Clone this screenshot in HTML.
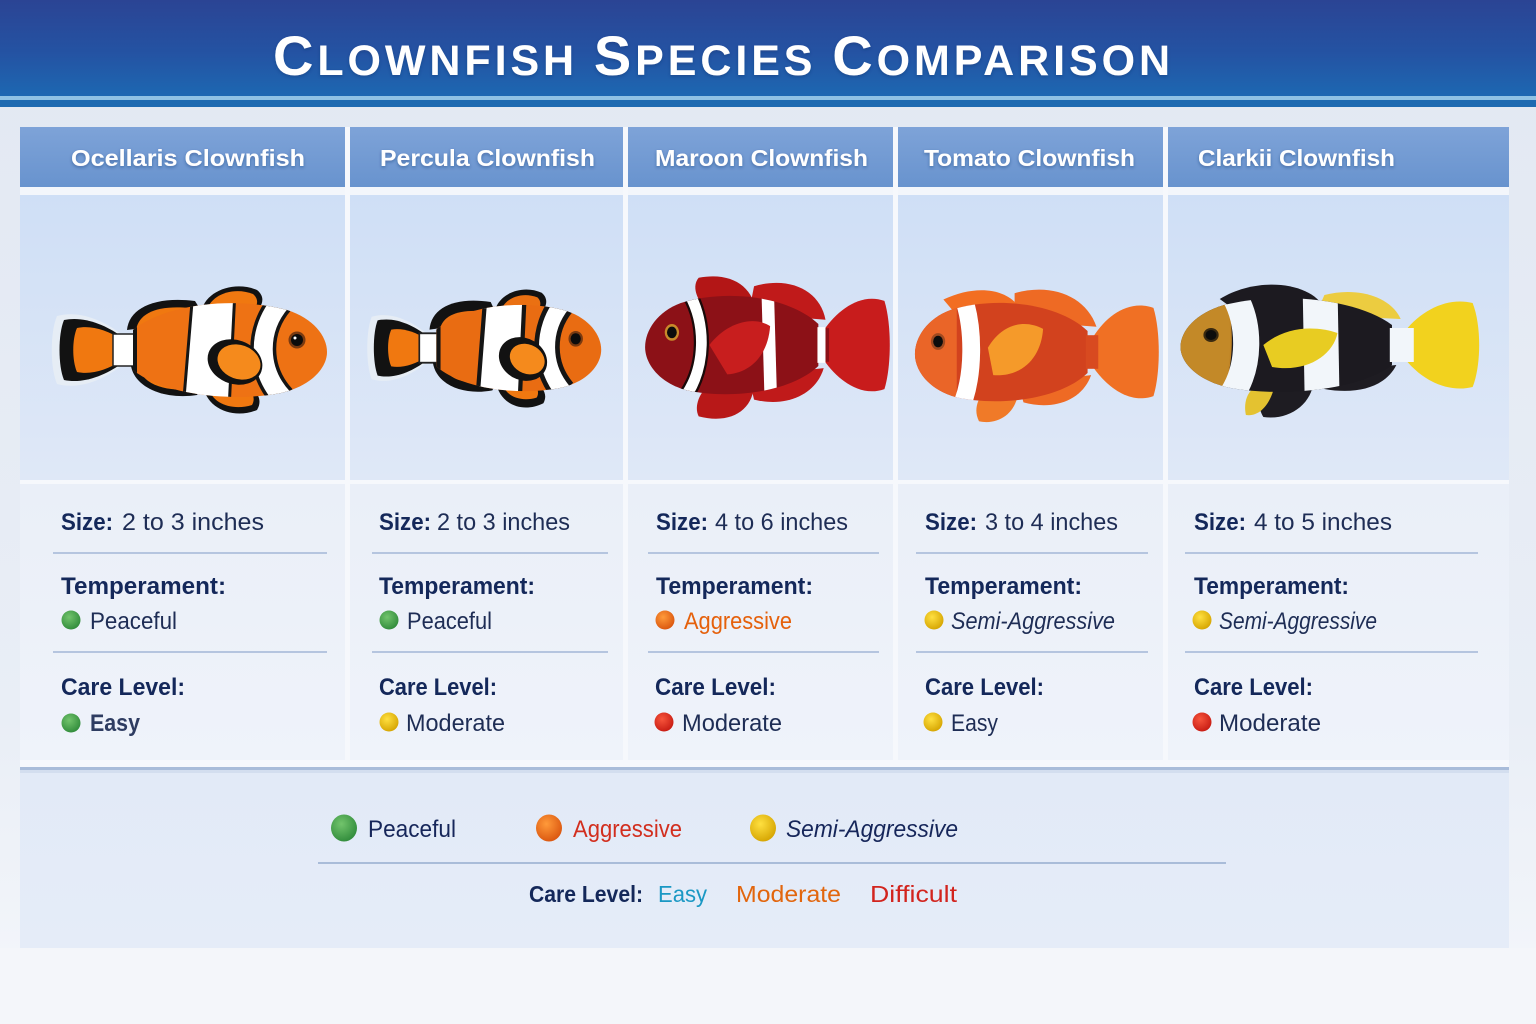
<!DOCTYPE html>
<html><head><meta charset="utf-8">
<style>
html,body{margin:0;padding:0;width:1536px;height:1024px;overflow:hidden;background:#edf1f7;}
svg{display:block;}
text{font-family:"Liberation Sans","DejaVu Sans",sans-serif;}
</style></head>
<body>
<svg width="1536" height="1024" viewBox="0 0 1536 1024" xmlns="http://www.w3.org/2000/svg">
<defs>
  <linearGradient id="hdr" x1="0" y1="0" x2="0" y2="1">
    <stop offset="0" stop-color="#2b4494"/>
    <stop offset="0.55" stop-color="#2453a3"/>
    <stop offset="1" stop-color="#1d68b2"/>
  </linearGradient>
  <linearGradient id="pg" x1="0" y1="0" x2="0" y2="1">
    <stop offset="0" stop-color="#e2e8f2"/>
    <stop offset="0.7" stop-color="#e9eef6"/>
    <stop offset="1" stop-color="#f5f7fb"/>
  </linearGradient>
  <linearGradient id="ch" x1="0" y1="0" x2="0" y2="1">
    <stop offset="0" stop-color="#7ea3d8"/>
    <stop offset="1" stop-color="#6893ce"/>
  </linearGradient>
  <linearGradient id="img" x1="0" y1="0" x2="0" y2="1">
    <stop offset="0" stop-color="#cfdff6"/>
    <stop offset="1" stop-color="#dfe8f7"/>
  </linearGradient>
  <linearGradient id="info" x1="0" y1="0" x2="0" y2="1">
    <stop offset="0" stop-color="#eaeff8"/>
    <stop offset="1" stop-color="#eff3fa"/>
  </linearGradient>
  <linearGradient id="leg" x1="0" y1="0" x2="0" y2="1">
    <stop offset="0" stop-color="#e2eaf7"/>
    <stop offset="1" stop-color="#e5ecf8"/>
  </linearGradient>
  <radialGradient id="gG" cx="0.4" cy="0.35" r="0.7">
    <stop offset="0" stop-color="#72c46c"/><stop offset="1" stop-color="#2f8a3a"/>
  </radialGradient>
  <radialGradient id="gY" cx="0.4" cy="0.35" r="0.7">
    <stop offset="0" stop-color="#ffe040"/><stop offset="1" stop-color="#d4a300"/>
  </radialGradient>
  <radialGradient id="gO" cx="0.4" cy="0.35" r="0.7">
    <stop offset="0" stop-color="#ff9a3a"/><stop offset="1" stop-color="#d9540e"/>
  </radialGradient>
  <radialGradient id="gR" cx="0.4" cy="0.35" r="0.7">
    <stop offset="0" stop-color="#f7553c"/><stop offset="1" stop-color="#c61a12"/>
  </radialGradient>
  <filter id="ts" x="-5%" y="-20%" width="110%" height="140%">
    <feDropShadow dx="0" dy="1.5" stdDeviation="1.5" flood-color="#1a3570" flood-opacity="0.45"/>
  </filter>
  <clipPath id="bc" clipPathUnits="userSpaceOnUse">
    <path d="M78,-20 C110,-46 180,-54 232,-40 C258,-32 272,-14 272,2 C272,18 256,36 226,43 C180,52 110,46 78,20 Z"/>
  </clipPath>
</defs>

<!-- page background -->
<rect x="0" y="0" width="1536" height="1024" fill="url(#pg)"/>
<rect x="0" y="948" width="1536" height="76" fill="#f4f6fa"/>

<!-- header band -->
<rect x="0" y="0" width="1536" height="97" fill="url(#hdr)"/>
<rect x="0" y="96" width="1536" height="4" fill="#8fc2e4"/>
<rect x="0" y="100" width="1536" height="7" fill="#1e6ab1"/>

<text x="273" y="75" fill="#ffffff" font-weight="bold" font-size="43" textLength="897" lengthAdjust="spacing" filter="url(#ts)"><tspan font-size="56">C</tspan>LOWNFISH <tspan font-size="56">S</tspan>PECIES <tspan font-size="56">C</tspan>OMPARISON</text>

<!-- column header cells -->
<rect x="20" y="127" width="325" height="60" fill="url(#ch)"/>
<rect x="350" y="127" width="273" height="60" fill="url(#ch)"/>
<rect x="628" y="127" width="265" height="60" fill="url(#ch)"/>
<rect x="898" y="127" width="265" height="60" fill="url(#ch)"/>
<rect x="1168" y="127" width="341" height="60" fill="url(#ch)"/>

<g fill="#ffffff" font-weight="bold" font-size="23" filter="url(#ts)">
  <text x="71" y="166" textLength="234" lengthAdjust="spacingAndGlyphs">Ocellaris Clownfish</text>
  <text x="380" y="166" textLength="215" lengthAdjust="spacingAndGlyphs">Percula Clownfish</text>
  <text x="655" y="166" textLength="213" lengthAdjust="spacingAndGlyphs">Maroon Clownfish</text>
  <text x="924" y="166" textLength="211" lengthAdjust="spacingAndGlyphs">Tomato Clownfish</text>
  <text x="1198" y="166" textLength="197" lengthAdjust="spacingAndGlyphs">Clarkii Clownfish</text>
</g>

<!-- gaps -->
<rect x="20" y="187" width="1489" height="8" fill="#f3f6fb"/>

<!-- image cells -->
<rect x="20" y="195" width="325" height="285" fill="url(#img)"/>
<rect x="350" y="195" width="273" height="285" fill="url(#img)"/>
<rect x="628" y="195" width="265" height="285" fill="url(#img)"/>
<rect x="898" y="195" width="265" height="285" fill="url(#img)"/>
<rect x="1168" y="195" width="341" height="285" fill="url(#img)"/>

<rect x="20" y="480" width="1489" height="4" fill="#f6f8fc"/>

<!-- info cells -->
<rect x="20" y="484" width="325" height="276" fill="url(#info)"/>
<rect x="350" y="484" width="273" height="276" fill="url(#info)"/>
<rect x="628" y="484" width="265" height="276" fill="url(#info)"/>
<rect x="898" y="484" width="265" height="276" fill="url(#info)"/>
<rect x="1168" y="484" width="341" height="276" fill="url(#info)"/>

<!-- column separators (white gaps) -->
<g fill="#f6f8fc">
  <rect x="345" y="127" width="5" height="633"/>
  <rect x="623" y="127" width="5" height="633"/>
  <rect x="893" y="127" width="5" height="633"/>
  <rect x="1163" y="127" width="5" height="633"/>
</g>
<rect x="20" y="760" width="1489" height="8" fill="#f6f8fc"/>

<!-- ================= FISH ================= -->
<!-- Fish 1: Ocellaris -->
<g transform="translate(55,350)">
  <path d="M66,-16 C48,-30 24,-40 2,-34 C-5,-18 -5,18 2,34 C24,40 48,30 66,16 Z" fill="#e6edf5"/>
  <path d="M66,-14 C49,-26 28,-34 9,-30 C3,-16 3,16 9,30 C28,34 49,26 66,14 Z" fill="#121212"/>
  <path d="M66,-11 C52,-20 36,-25 22,-22 C17,-11 17,11 22,22 C36,25 52,20 66,11 Z" fill="#f07810"/>
  <rect x="58" y="-16" width="26" height="32" fill="#ffffff" stroke="#222" stroke-width="1.5"/>
  <path d="M72,-20 C74,-42 100,-54 140,-49 L152,-30 Z" fill="#121212"/>
  <path d="M81,-20 C84,-38 104,-45 135,-42 L146,-28 Z" fill="#f07810"/>
  <path d="M146,-36 C148,-58 178,-70 202,-60 C212,-52 206,-42 200,-38 Z" fill="#121212"/>
  <path d="M151,-37 C154,-55 178,-64 198,-56 C205,-50 202,-43 197,-38 Z" fill="#f07810"/>
  <path d="M76,16 C80,38 110,50 142,45 L152,30 Z" fill="#121212"/>
  <path d="M84,18 C88,34 110,42 137,39 L146,28 Z" fill="#f07810"/>
  <path d="M148,34 C150,58 178,70 202,60 C208,50 202,42 196,38 Z" fill="#121212"/>
  <path d="M154,38 C157,54 178,61 197,55 C201,48 197,42 193,38 Z" fill="#f07810"/>
  <path d="M78,-20 C110,-46 180,-54 232,-40 C258,-32 272,-14 272,2 C272,18 256,36 226,43 C180,52 110,46 78,20 Z" fill="#ee7214"/>
  <g clip-path="url(#bc)">
    <polygon points="138,-60 180,-60 174,60 128,60" fill="#ffffff" stroke="#151515" stroke-width="3"/>
    <path d="M226,-48 C202,-20 202,20 228,48" fill="none" stroke="#151515" stroke-width="26"/>
    <path d="M226,-48 C202,-20 202,20 228,48" fill="none" stroke="#ffffff" stroke-width="19"/>
    <rect x="76" y="-30" width="6" height="60" fill="#151515"/>
  </g>
  <ellipse cx="180" cy="12" rx="28" ry="22" transform="rotate(20 180 12)" fill="#121212"/>
  <ellipse cx="184" cy="12" rx="22" ry="17" transform="rotate(20 184 12)" fill="#f58a1c"/>
  <circle cx="242" cy="-10" r="8.5" fill="#7a3a10"/>
  <circle cx="242" cy="-10" r="6" fill="#0c0c0c"/>
  <circle cx="240" cy="-12" r="1.5" fill="#fff"/>
</g>

<!-- Fish 2: Percula -->
<g transform="translate(370,348) scale(0.85,0.92)">
  <path d="M66,-16 C48,-30 24,-40 2,-34 C-5,-18 -5,18 2,34 C24,40 48,30 66,16 Z" fill="#e6edf5"/>
  <path d="M66,-14 C49,-26 28,-34 9,-30 C3,-16 3,16 9,30 C28,34 49,26 66,14 Z" fill="#121212"/>
  <path d="M66,-10 C52,-18 38,-22 25,-20 C20,-10 20,10 25,20 C38,22 52,18 66,10 Z" fill="#f07810"/>
  <rect x="58" y="-16" width="26" height="32" fill="#ffffff" stroke="#222" stroke-width="2"/>
  <path d="M70,-20 C72,-44 100,-56 142,-50 L152,-30 Z" fill="#121212"/>
  <path d="M82,-20 C86,-36 104,-42 134,-40 L144,-28 Z" fill="#ea7012"/>
  <path d="M146,-36 C148,-58 178,-70 202,-60 C212,-52 206,-42 200,-38 Z" fill="#121212"/>
  <path d="M153,-37 C156,-54 178,-62 197,-55 C203,-50 200,-43 196,-38 Z" fill="#ea7012"/>
  <path d="M74,16 C78,40 110,52 144,46 L152,30 Z" fill="#121212"/>
  <path d="M86,18 C90,33 110,40 136,37 L146,28 Z" fill="#f07810"/>
  <path d="M148,34 C150,60 178,72 204,60 C210,50 202,42 196,38 Z" fill="#121212"/>
  <path d="M156,38 C159,53 178,59 196,54 C200,48 196,42 193,38 Z" fill="#f07810"/>
  <path d="M78,-20 C110,-46 180,-54 232,-40 C258,-32 272,-14 272,2 C272,18 256,36 226,43 C180,52 110,46 78,20 Z" fill="#e96c12"/>
  <g clip-path="url(#bc)">
    <polygon points="136,-60 182,-60 176,60 126,60" fill="#ffffff" stroke="#151515" stroke-width="5"/>
    <path d="M226,-48 C202,-20 202,20 228,48" fill="none" stroke="#151515" stroke-width="30"/>
    <path d="M226,-48 C202,-20 202,20 228,48" fill="none" stroke="#ffffff" stroke-width="19"/>
    <rect x="76" y="-30" width="7" height="60" fill="#151515"/>
  </g>
  <ellipse cx="180" cy="12" rx="29" ry="23" transform="rotate(20 180 12)" fill="#121212"/>
  <ellipse cx="185" cy="12" rx="21" ry="16" transform="rotate(20 185 12)" fill="#f58a1c"/>
  <circle cx="242" cy="-10" r="8.5" fill="#7a3a10"/>
  <circle cx="242" cy="-10" r="6" fill="#0c0c0c"/>
</g>

<!-- Fish 3: Maroon (faces left) -->
<g transform="translate(888,345) scale(-0.893,1.05)">
  <path d="M72,-14 C56,-34 30,-50 4,-42 C-4,-20 -4,20 4,42 C30,50 56,34 72,14 Z" fill="#c81c1c"/>
  <path d="M70,-24 C76,-52 110,-66 150,-56 L156,-30 Z" fill="#c01a1a"/>
  <path d="M148,-30 C150,-56 176,-70 212,-64 C220,-56 214,-44 206,-36 Z" fill="#b31616"/>
  <path d="M72,22 C80,46 112,60 150,52 L156,30 Z" fill="#c01a1a"/>
  <path d="M150,36 C150,62 176,76 212,68 C218,58 210,44 200,38 Z" fill="#b81818"/>
  <path d="M78,-20 C110,-46 180,-54 232,-40 C258,-32 272,-14 272,2 C272,18 256,36 226,43 C180,52 110,46 78,20 Z" fill="#8c1117"/>
  <rect x="66" y="-16" width="14" height="32" fill="#8c1117"/>
  <g clip-path="url(#bc)">
    <polygon points="128,-60 142,-60 138,60 124,60" fill="#ffffff"/>
    <path d="M222,-48 C204,-20 204,20 226,48" fill="none" stroke="#1a0a0a" stroke-width="17"/>
    <path d="M222,-48 C204,-20 204,20 226,48" fill="none" stroke="#ffffff" stroke-width="12"/>
  </g>
  <rect x="70" y="-17" width="9" height="34" fill="#ffffff"/>
  <path d="M200,0 C180,-22 150,-28 132,-18 C134,6 150,26 180,28 Z" fill="#c81e1e"/>
  <circle cx="242" cy="-12" r="8" fill="#c98a2a"/>
  <circle cx="242" cy="-12" r="5.5" fill="#0c0c0c"/>
</g>

<!-- Fish 4: Tomato (faces left) -->
<g transform="translate(1157,352) scale(-0.89,1.05)">
  <path d="M72,-14 C56,-36 30,-50 4,-42 C-4,-20 -4,20 4,42 C30,50 56,34 72,14 Z" fill="#f07024"/>
  <path d="M68,-24 C80,-54 120,-66 160,-56 L160,-30 Z" fill="#ee6a24"/>
  <path d="M150,-34 C160,-60 200,-66 240,-50 L220,-30 Z" fill="#f26e22"/>
  <path d="M74,22 C84,46 116,56 150,48 L156,30 Z" fill="#ee6a24"/>
  <path d="M156,38 C158,58 178,70 200,66 C206,56 202,46 196,40 Z" fill="#f07a28"/>
  <path d="M78,-20 C110,-46 180,-54 232,-40 C258,-32 272,-14 272,2 C272,18 256,36 226,43 C180,52 110,46 78,20 Z" fill="#d2421e"/>
  <rect x="66" y="-16" width="14" height="32" fill="#d84a20"/>
  <g clip-path="url(#bc)">
    <rect x="225" y="-60" width="60" height="120" fill="#ea6528"/>
    <path d="M216,-48 C206,-20 206,20 218,48" fill="none" stroke="#ffffff" stroke-width="20"/>
  </g>
  <path d="M190,-4 C175,-26 150,-32 128,-22 C130,4 150,24 184,22 Z" fill="#f59a2a"/>
  <circle cx="246" cy="-10" r="8" fill="#a04a20"/>
  <circle cx="246" cy="-10" r="5.5" fill="#0c0c0c"/>
</g>

<!-- Fish 5: Clarkii (faces left) -->
<g transform="translate(1477,345) scale(-1.09,1.0)">
  <path d="M66,-14 C50,-36 26,-48 4,-42 C-4,-20 -4,20 4,42 C26,48 50,36 66,14 Z" fill="#f2d21e"/>
  <path d="M70,-26 C80,-50 112,-58 140,-50 L148,-30 Z" fill="#eccc40"/>
  <path d="M140,-36 C150,-62 200,-70 236,-46 L216,-30 Z" fill="#1c1a20"/>
  <path d="M74,20 C84,42 110,50 140,44 L150,28 Z" fill="#1e1c22"/>
  <path d="M150,34 C150,58 172,76 196,72 C202,62 200,46 196,40 Z" fill="#1e1c22"/>
  <path d="M186,42 C190,60 200,72 212,70 C214,60 212,50 206,44 Z" fill="#e4c230"/>
  <path d="M78,-20 C110,-46 180,-54 232,-40 C258,-32 272,-14 272,2 C272,18 256,36 226,43 C180,52 110,46 78,20 Z" fill="#1c1a20"/>
  <g clip-path="url(#bc)">
    <path d="M232,-60 C222,-20 222,20 236,60 L290,60 L290,-60 Z" fill="#c08426"/>
    <path d="M232,-60 C224,-20 224,20 236,60 L290,60 L290,-60 Z" fill="#c8902c" opacity="0.4"/>
    <polygon points="128,-60 160,-60 158,60 126,60" fill="#f2f6fa"/>
    <path d="M222,-48 C208,-20 208,20 224,48" fill="none" stroke="#f2f6fa" stroke-width="24"/>
  </g>
  <rect x="58" y="-17" width="22" height="34" fill="#f2f6fa"/>
  <path d="M196,0 C176,-18 150,-20 128,-12 C132,10 156,28 188,22 Z" fill="#e8cc22"/>
  <circle cx="244" cy="-10" r="7" fill="#3a2a10"/>
  <circle cx="244" cy="-10" r="5" fill="#0c0c0c"/>
</g>

<!-- ================= INFO TEXT ================= -->
<g stroke="#b5c5df" stroke-width="2">
  <line x1="53" y1="553" x2="327" y2="553"/>
  <line x1="53" y1="652" x2="327" y2="652"/>
  <line x1="372" y1="553" x2="608" y2="553"/>
  <line x1="372" y1="652" x2="608" y2="652"/>
  <line x1="648" y1="553" x2="879" y2="553"/>
  <line x1="648" y1="652" x2="879" y2="652"/>
  <line x1="916" y1="553" x2="1148" y2="553"/>
  <line x1="916" y1="652" x2="1148" y2="652"/>
  <line x1="1185" y1="553" x2="1478" y2="553"/>
  <line x1="1185" y1="652" x2="1478" y2="652"/>
</g>

<g font-size="24">
  <!-- col1 -->
  <text x="61" y="530" font-weight="bold" fill="#14285a" textLength="52" lengthAdjust="spacingAndGlyphs">Size:</text>
  <text x="122" y="530" fill="#1e2d55" textLength="142" lengthAdjust="spacingAndGlyphs">2 to 3 inches</text>
  <text x="61" y="594" font-weight="bold" fill="#14285a" textLength="165" lengthAdjust="spacingAndGlyphs">Temperament:</text>
  <circle cx="71" cy="620" r="9.5" fill="url(#gG)"/>
  <text x="90" y="629" fill="#1e2d55" textLength="87" lengthAdjust="spacingAndGlyphs">Peaceful</text>
  <text x="61" y="695" font-weight="bold" fill="#14285a" textLength="124" lengthAdjust="spacingAndGlyphs">Care Level:</text>
  <circle cx="71" cy="723" r="9.5" fill="url(#gG)"/>
  <text x="90" y="731" fill="#1e2d55" font-weight="bold" textLength="50" lengthAdjust="spacingAndGlyphs" opacity="0.92">Easy</text>

  <!-- col2 -->
  <text x="379" y="530" font-weight="bold" fill="#14285a" textLength="52" lengthAdjust="spacingAndGlyphs">Size:</text>
  <text x="437" y="530" fill="#1e2d55" textLength="133" lengthAdjust="spacingAndGlyphs">2 to 3 inches</text>
  <text x="379" y="594" font-weight="bold" fill="#14285a" textLength="156" lengthAdjust="spacingAndGlyphs">Temperament:</text>
  <circle cx="389" cy="620" r="9.5" fill="url(#gG)"/>
  <text x="407" y="629" fill="#1e2d55" textLength="85" lengthAdjust="spacingAndGlyphs">Peaceful</text>
  <text x="379" y="695" font-weight="bold" fill="#14285a" textLength="118" lengthAdjust="spacingAndGlyphs">Care Level:</text>
  <circle cx="389" cy="722" r="9.5" fill="url(#gY)"/>
  <text x="406" y="731" fill="#1e2d55" textLength="99" lengthAdjust="spacingAndGlyphs">Moderate</text>

  <!-- col3 -->
  <text x="656" y="530" font-weight="bold" fill="#14285a" textLength="52" lengthAdjust="spacingAndGlyphs">Size:</text>
  <text x="715" y="530" fill="#1e2d55" textLength="133" lengthAdjust="spacingAndGlyphs">4 to 6 inches</text>
  <text x="656" y="594" font-weight="bold" fill="#14285a" textLength="157" lengthAdjust="spacingAndGlyphs">Temperament:</text>
  <circle cx="665" cy="620" r="9.5" fill="url(#gO)"/>
  <text x="684" y="629" fill="#e5610c" textLength="108" lengthAdjust="spacingAndGlyphs">Aggressive</text>
  <text x="655" y="695" font-weight="bold" fill="#14285a" textLength="121" lengthAdjust="spacingAndGlyphs">Care Level:</text>
  <circle cx="664" cy="722" r="9.5" fill="url(#gR)"/>
  <text x="682" y="731" fill="#1e2d55" textLength="100" lengthAdjust="spacingAndGlyphs">Moderate</text>

  <!-- col4 -->
  <text x="925" y="530" font-weight="bold" fill="#14285a" textLength="52" lengthAdjust="spacingAndGlyphs">Size:</text>
  <text x="985" y="530" fill="#1e2d55" textLength="133" lengthAdjust="spacingAndGlyphs">3 to 4 inches</text>
  <text x="925" y="594" font-weight="bold" fill="#14285a" textLength="157" lengthAdjust="spacingAndGlyphs">Temperament:</text>
  <circle cx="934" cy="620" r="9.5" fill="url(#gY)"/>
  <text x="951" y="629" fill="#1e2d55" font-style="italic" textLength="164" lengthAdjust="spacingAndGlyphs">Semi-Aggressive</text>
  <text x="925" y="695" font-weight="bold" fill="#14285a" textLength="119" lengthAdjust="spacingAndGlyphs">Care Level:</text>
  <circle cx="933" cy="722" r="9.5" fill="url(#gY)"/>
  <text x="951" y="731" fill="#1e2d55" textLength="47" lengthAdjust="spacingAndGlyphs">Easy</text>

  <!-- col5 -->
  <text x="1194" y="530" font-weight="bold" fill="#14285a" textLength="52" lengthAdjust="spacingAndGlyphs">Size:</text>
  <text x="1254" y="530" fill="#1e2d55" textLength="138" lengthAdjust="spacingAndGlyphs">4 to 5 inches</text>
  <text x="1194" y="594" font-weight="bold" fill="#14285a" textLength="155" lengthAdjust="spacingAndGlyphs">Temperament:</text>
  <circle cx="1202" cy="620" r="9.5" fill="url(#gY)"/>
  <text x="1219" y="629" fill="#1e2d55" font-style="italic" textLength="158" lengthAdjust="spacingAndGlyphs">Semi-Aggressive</text>
  <text x="1194" y="695" font-weight="bold" fill="#14285a" textLength="119" lengthAdjust="spacingAndGlyphs">Care Level:</text>
  <circle cx="1202" cy="722" r="9.5" fill="url(#gR)"/>
  <text x="1219" y="731" fill="#1e2d55" textLength="102" lengthAdjust="spacingAndGlyphs">Moderate</text>
</g>

<!-- ================= LEGEND ================= -->
<rect x="20" y="768" width="1489" height="180" fill="url(#leg)"/>
<rect x="20" y="767" width="1489" height="3" fill="#a9bcd9"/>
<rect x="20" y="770" width="1489" height="3" fill="#c9d6ea" opacity="0.6"/>

<ellipse cx="344" cy="828" rx="13" ry="13.5" fill="url(#gG)"/>
<ellipse cx="549" cy="828" rx="13" ry="13.5" fill="url(#gO)"/>
<ellipse cx="763" cy="828" rx="13" ry="13.5" fill="url(#gY)"/>
<g font-size="24">
  <text x="368" y="837" fill="#16265a" textLength="88" lengthAdjust="spacingAndGlyphs">Peaceful</text>
  <text x="573" y="837" fill="#d22e1e" textLength="109" lengthAdjust="spacingAndGlyphs">Aggressive</text>
  <text x="786" y="837" fill="#16265a" font-style="italic" textLength="172" lengthAdjust="spacingAndGlyphs">Semi-Aggressive</text>
</g>
<rect x="318" y="862" width="908" height="2" fill="#a9bcd9"/>
<g font-size="23">
  <text x="529" y="902" fill="#14285a" font-weight="bold" textLength="114" lengthAdjust="spacingAndGlyphs">Care Level:</text>
  <text x="658" y="902" fill="#1a98c4" textLength="49" lengthAdjust="spacingAndGlyphs">Easy</text>
  <text x="736" y="902" fill="#e2660e" textLength="105" lengthAdjust="spacingAndGlyphs">Moderate</text>
  <text x="870" y="902" fill="#d2241e" textLength="87" lengthAdjust="spacingAndGlyphs">Difficult</text>
</g>
</svg>
</body></html>
